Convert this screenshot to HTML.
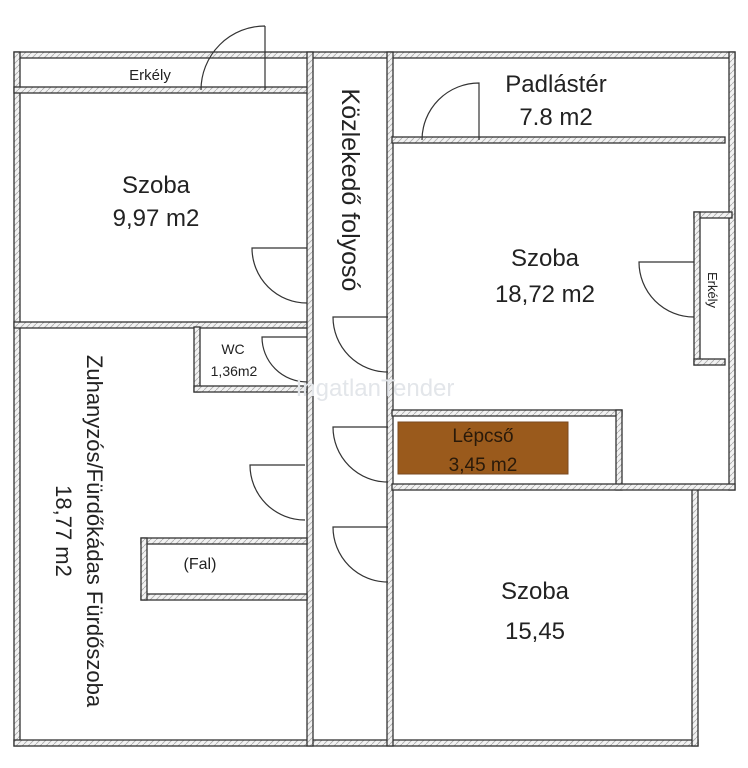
<!DOCTYPE html>
<html><head><meta charset="utf-8"><style>
html,body{margin:0;padding:0;background:#fff}
svg{display:block;font-family:"Liberation Sans","DejaVu Sans",sans-serif}
</style></head><body>
<svg width="748" height="768" viewBox="0 0 748 768" xmlns="http://www.w3.org/2000/svg">
<defs>
<pattern id="h" width="6" height="6" patternUnits="userSpaceOnUse"><rect width="6" height="6" fill="#f2f2f2"/><path d="M0 6L6 0" stroke="#aaa" stroke-width="0.8"/></pattern>
</defs>
<g fill="url(#h)" stroke="#333" stroke-width="1.3">
<rect x="14" y="52" width="721" height="6"/>
<rect x="14" y="52" width="6" height="694"/>
<rect x="14" y="740" width="684" height="6"/>
<rect x="729" y="52" width="6" height="438"/>
<rect x="692" y="485" width="6" height="261"/>
<rect x="14" y="87" width="298" height="6"/>
<rect x="14" y="322" width="298" height="6"/>
<rect x="307" y="52" width="6" height="694"/>
<rect x="387" y="52" width="6" height="694"/>
<rect x="194" y="327" width="6" height="65"/>
<rect x="194" y="386" width="113" height="6"/>
<rect x="141" y="538" width="166" height="6"/>
<rect x="141" y="594" width="166" height="6"/>
<rect x="141" y="538" width="6" height="62"/>
<rect x="392" y="137" width="333" height="6"/>
<rect x="694" y="212" width="38" height="6"/>
<rect x="694" y="212" width="6" height="153"/>
<rect x="694" y="359" width="31" height="6"/>
<rect x="392" y="410" width="230" height="6"/>
<rect x="616" y="410" width="6" height="80"/>
<rect x="392" y="484" width="343" height="6"/>
</g>
<rect x="398" y="422" width="170" height="52" fill="#9a5a1c" stroke="#7a4a20" stroke-width="1"/>
<g fill="none" stroke="#333" stroke-width="1.2">
<path d="M265 90V26M265 26A64 64 0 0 0 201 90"/>
<path d="M307 248H252A55 55 0 0 0 307 303"/>
<path d="M307 337H262A45 45 0 0 0 307 382"/>
<path d="M305 465H250A55 55 0 0 0 305 520"/>
<path d="M388 317H333A55 55 0 0 0 388 372"/>
<path d="M388 427H333A55 55 0 0 0 388 482"/>
<path d="M388 527H333A55 55 0 0 0 388 582"/>
<path d="M479 140V83A57 57 0 0 0 422 140"/>
<path d="M694 262H639A55 55 0 0 0 694 317"/>
</g>
<text x="375" y="396" font-size="24" fill="#e3e6ea" text-anchor="middle">IngatlanTender</text>
<g fill="#222" text-anchor="middle">
<text x="150" y="80" font-size="15">Erkély</text>
<text x="156" y="193" font-size="24">Szoba</text>
<text x="156" y="226" font-size="24">9,97 m2</text>
<text x="556" y="92" font-size="24">Padlástér</text>
<text x="556" y="125" font-size="24">7.8 m2</text>
<text x="545" y="266" font-size="24">Szoba</text>
<text x="545" y="302" font-size="24">18,72 m2</text>
<text x="233" y="354" font-size="14">WC</text>
<text x="234" y="376" font-size="14">1,36m2</text>
<text x="200" y="569" font-size="16">(Fal)</text>
<text x="535" y="599" font-size="24">Szoba</text>
<text x="535" y="639" font-size="24">15,45</text>
<text x="483" y="442" font-size="19" fill="#2a1a0a">Lépcső</text>
<text x="483" y="471" font-size="19" fill="#2a1a0a">3,45 m2</text>
<text transform="translate(342,190) rotate(90)" font-size="25">Közlekedő folyosó</text>
<text transform="translate(708,290) rotate(90)" font-size="13">Erkély</text>
<text transform="translate(87,531) rotate(90)" font-size="22">Zuhanyzós/Fürdőkádas Fürdőszoba</text>
<text transform="translate(56,531) rotate(90)" font-size="22">18,77 m2</text>
</g>
</svg>
</body></html>
